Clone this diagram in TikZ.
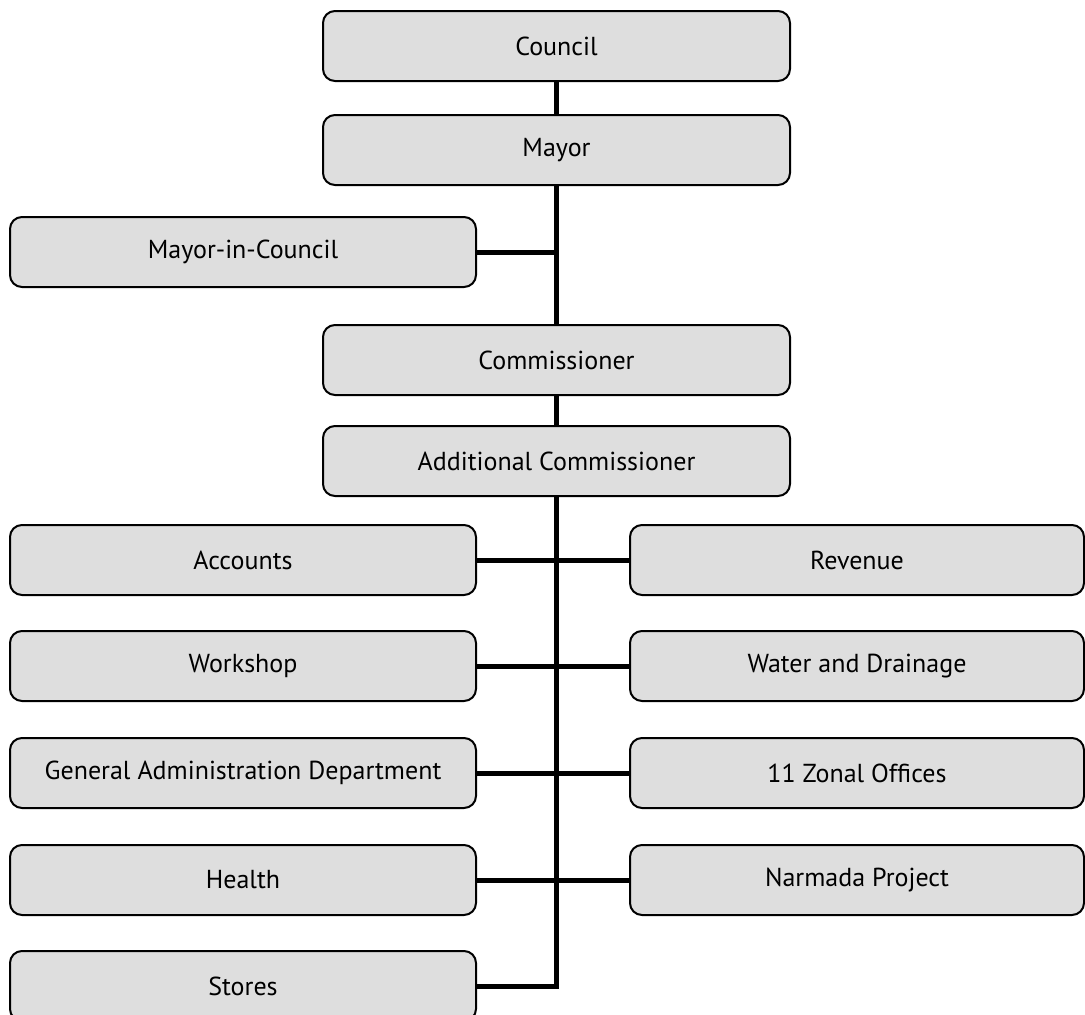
\documentclass[tikz,border=0pt]{standalone}
\usepackage{fontspec}
\setmainfont{PT Sans}
\begin{document}
\begin{tikzpicture}[x=1pt,y=-1pt,
  unit/.style={draw=black, line width=2pt, fill=boxgray, rounded corners=12pt,
    minimum height=70pt, inner sep=0pt, font=\fontsize{26}{30}\selectfont},
  midunit/.style={unit, minimum width=467pt},
  leftunit/.style={unit, minimum width=466pt},
  rightunit/.style={unit, minimum width=454pt},
  link/.style={line width=5pt, line join=miter}]
\definecolor{boxgray}{gray}{0.871}
\useasboundingbox (0,0) rectangle (1085,1015);

% top of the hierarchy
\node[midunit] (council) at (556.5,46) {Council};
\node[midunit] (mayor) at (556.5,150) {Mayor};
\node[leftunit] (mic) at (243,252) {Mayor-in-Council};
\node[midunit] (comm) at (556.5,360) {Commissioner};
\node[midunit] (addl) at (556.5,461) {Additional Commissioner};

% departments, left column
\node[leftunit] (accounts) at (243,560) {Accounts};
\node[leftunit] (workshop) at (243,666) {Workshop};
\node[leftunit] (gad) at (243,773) {General Administration Department};
\node[leftunit] (health) at (243,880) {Health};
\node[leftunit] (stores) at (243,986) {Stores};

% departments, right column
\node[rightunit] (revenue) at (857,560) {Revenue};
\node[rightunit] (water) at (857,666) {Water and Drainage};
\node[rightunit] (zonal) at (857,773) {11 Zonal Offices};
\node[rightunit] (narmada) at (857,880) {Narmada Project};

% connectors
\draw[link] (council) -- (mayor);
\draw[link] (mayor) -- (comm);
\draw[link] (mic.east) -- (mic.east -| mayor.south);
\draw[link] (comm) -- (addl);
\coordinate (trunkend) at (stores.east -| addl.south);
\draw[link] (addl.south) -- (trunkend) -- (stores.east);
\draw[link] (accounts.east) -- (revenue.west);
\draw[link] (workshop.east) -- (water.west);
\draw[link] (gad.east) -- (zonal.west);
\draw[link] (health.east) -- (narmada.west);
\end{tikzpicture}
\end{document}
